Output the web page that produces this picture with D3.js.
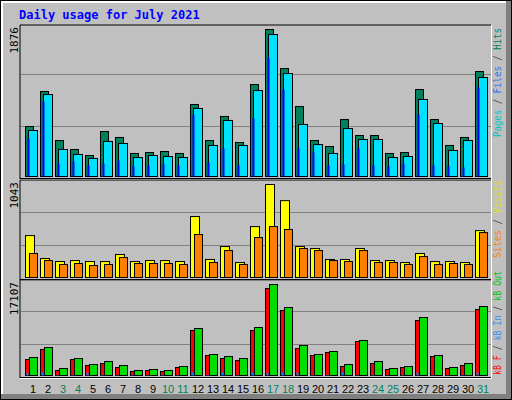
<!DOCTYPE html>
<html><head><meta charset="utf-8">
<script src="https://cdn.jsdelivr.net/npm/d3@7"></script>
<style>body{margin:0}</style>
</head><body>
<script>
var days = d3.range(1, 32);
var weekend = [3, 4, 10, 11, 17, 18, 24, 25, 31];
var hits = [638,1085,459,345,268,574,498,294,306,319,294,919,459,766,434,1174,1876,1378,893,459,383,727,523,523,294,306,1110,727,396,498,1340];
var files = [587,1046,345,281,230,447,421,242,268,255,242,868,396,715,396,1097,1812,1314,664,408,294,612,472,472,242,255,983,676,332,459,1263];
var pages = [485,957,166,191,140,166,204,128,140,153,140,791,179,357,140,740,1518,1110,357,306,140,153,357,140,128,166,791,140,128,115,1136];
var visits = [470,213,179,190,179,179,258,179,190,190,179,684,202,347,168,571,1043,862,347,325,202,202,325,190,190,168,269,179,179,168,526];
var sites = [269,190,146,157,134,146,224,157,157,157,146,482,168,302,146,448,571,538,325,302,190,179,302,168,168,146,235,146,157,146,504];
var kbF = [3008,4890,940,3008,1880,2256,1504,752,940,752,1504,8460,3760,3196,2820,8460,16356,12220,5076,3760,4324,1692,6392,2256,1128,1504,10340,3572,1316,1880,12408];
var kbIn = [560,560,100,100,560,100,100,100,100,100,100,560,100,560,100,560,560,560,560,100,100,560,100,100,100,100,560,100,100,100,560];
var kbOut = [3384,5264,1316,3196,2068,2632,1880,940,1128,940,1692,8836,3948,3572,3196,9024,17107,12784,5640,3948,4512,2068,6580,2632,1316,1692,10904,3760,1504,2256,12972];

var svg = d3.select("body").append("svg").attr("width", 512).attr("height", 400);
var mono = "DejaVu Sans Mono, monospace";

// frame with bevel
svg.append("rect").attr("width", 512).attr("height", 400).attr("fill", "#000");
svg.append("rect").attr("x", 1).attr("y", 1).attr("width", 510).attr("height", 398).attr("fill", "#808080");
svg.append("rect").attr("x", 1).attr("y", 1).attr("width", 505).attr("height", 393).attr("fill", "#fff");
svg.append("rect").attr("x", 3).attr("y", 3).attr("width", 503).attr("height", 391).attr("fill", "#c0c0c0");

svg.append("text").attr("x", 19).attr("y", 19).attr("fill", "#0000ff")
  .attr("font-family", mono).attr("font-weight", "bold").attr("font-size", 12)
  .text("Daily usage for July 2021");

var x = d3.scaleLinear().domain([1, 31]).range([25, 475]);

var panels = [
  {top: 25, bottom: 176, y0: 29, max: 1876, lab: {end: 28, len: 109}, label: [["Pages", "#00c0c0"], [" / ", "#404040"], ["Files", "#3070f0"], [" / ", "#404040"], ["Hits", "#00805c"]],
   series: [{v: hits, dx: 0, w: 8, c: "#00805c"}, {v: files, dx: 3, w: 9, c: "#00e0ff"}, {v: pages, dx: 2, w: 2, c: "#0000ff", line: false}]},
  {top: 180, bottom: 277, y0: 184, max: 1043, lab: {end: 180, len: 78}, label: [["Sites", "#ff8000"], [" / ", "#404040"], ["Visits", "#e0e000"]],
   series: [{v: visits, dx: 0, w: 9, c: "#ffff00"}, {v: sites, dx: 4, w: 8, c: "#ff8000"}]},
  {top: 280, bottom: 375, y0: 284, max: 17107, lab: {end: 271, len: 104}, label: [["kB F", "#ff0000"], [" / ", "#404040"], ["kB In", "#3090f0"], [" / ", "#404040"], ["kB Out", "#00c000"]],
   series: [{v: kbF, dx: 0, w: 5, c: "#ff0000"}, {v: kbOut, dx: 4, w: 8, c: "#00dd00"}, {v: kbIn, dx: 1, w: 2, c: "#0080ff", line: false}]}
];

panels.forEach(function(p) {
  var y = d3.scaleLinear().domain([0, p.max]).range([p.bottom, p.y0]);
  svg.append("line").attr("x1", 20).attr("x2", 491).attr("y1", p.top).attr("y2", p.top).attr("stroke", "#000");
  svg.append("line").attr("x1", 20).attr("x2", 20).attr("y1", p.top).attr("y2", p.bottom + 3).attr("stroke", "#000");
  svg.append("line").attr("x1", 20).attr("x2", 491).attr("y1", p.bottom + 2.5).attr("y2", p.bottom + 2.5).attr("stroke", "#000");
  svg.append("line").attr("x1", 20).attr("x2", 491).attr("y1", p.bottom + 3.5).attr("y2", p.bottom + 3.5).attr("stroke", "#fff");
  svg.append("line").attr("x1", 491.5).attr("x2", 491.5).attr("y1", p.top).attr("y2", p.bottom + 4).attr("stroke", "#fff");
  [0.33, 0.675].forEach(function(f) {
    var gy = Math.round(p.bottom - f * (p.bottom - p.top)) + 0.5;
    svg.append("line").attr("x1", 21).attr("x2", 491).attr("y1", gy).attr("y2", gy).attr("stroke", "#808080");
  });
  p.series.forEach(function(s) {
    svg.append("g").selectAll("rect").data(days).join("rect")
      .attr("x", function(d) { return Math.round(x(d)) + s.dx + 0.5; })
      .attr("y", function(d) { return y(s.v[d - 1]) + 0.5; })
      .attr("width", s.w)
      .attr("height", function(d) { return Math.max(0, p.bottom - y(s.v[d - 1])); })
      .attr("fill", s.c)
      .attr("stroke", s.line === false ? "none" : "#000");
  });
  svg.append("text").attr("transform", "translate(18," + (p.top + 2) + ") rotate(-90)")
    .attr("text-anchor", "end").attr("font-family", mono).attr("font-size", 11).attr("fill", "#000")
    .text(d3.format("d")(p.max));
  var t = svg.append("text").attr("transform", "translate(501," + (p.lab.end + p.lab.len) + ") rotate(-90)")
    .attr("font-family", mono).attr("font-size", 11)
    .attr("textLength", p.lab.len).attr("lengthAdjust", "spacingAndGlyphs");
  p.label.forEach(function(l) { t.append("tspan").attr("fill", l[1]).text(l[0]); });
});

svg.append("g").selectAll("text").data(days).join("text")
  .attr("x", function(d) { return x(d) + 8; })
  .attr("y", 393)
  .attr("text-anchor", "middle")
  .attr("font-family", "Liberation Sans Narrow, Liberation Sans, sans-serif").attr("font-size", 11)
  .attr("fill", function(d) { return weekend.indexOf(d) >= 0 ? "#00805c" : "#000"; })
  .text(function(d) { return d; });
</script>
</body></html>
